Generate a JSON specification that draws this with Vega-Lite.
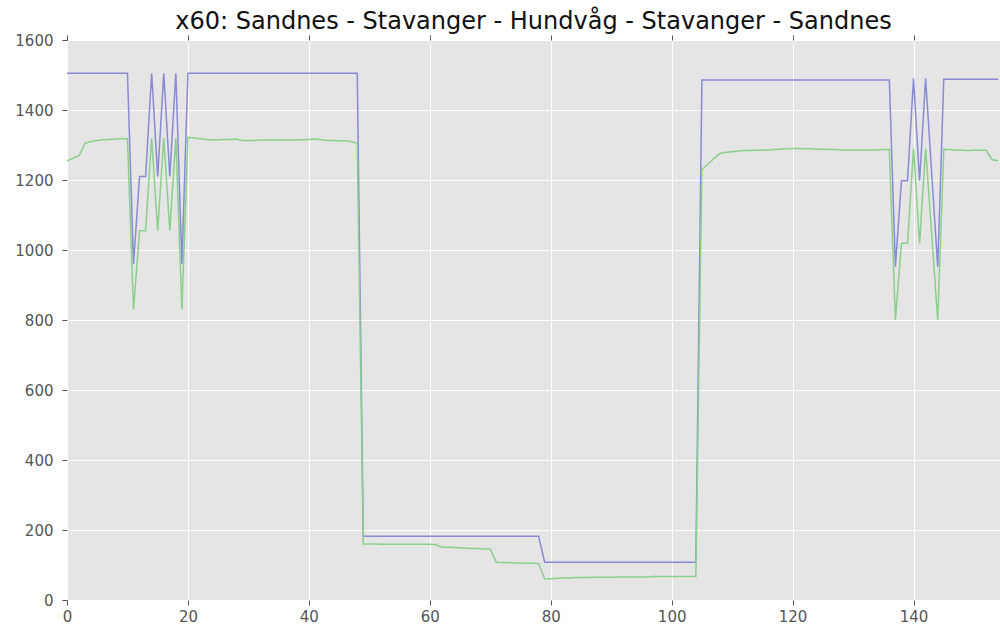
{
  "$schema": "https://vega.github.io/schema/vega-lite/v6.json",
  "width": 933,
  "height": 560,
  "autosize": "none",
  "padding": {"left": 67, "top": 40, "right": 0, "bottom": 32},
  "background": "white",
  "title": {"text": "x60: Sandnes - Stavanger - Hundvåg - Stavanger - Sandnes", "font": "DejaVu Sans", "fontSize": 24, "fontWeight": "normal", "color": "#111111", "anchor": "middle", "offset": -1},
  "config": {
    "view": {"fill": "#E5E5E5", "stroke": null},
    "axis": {"domain": false, "gridColor": "#FFFFFF", "gridWidth": 1, "gridOpacity": 1, "tickColor": "#555555", "tickSize": 5, "labelColor": "#555555", "labelFont": "DejaVu Sans", "labelFontSize": 15, "labelFlush": false, "title": null}
  },
  "data": {"values": [
    {"x":0,"b":1505,"g":1255},{"x":1,"b":1505,"g":1262},{"x":2,"b":1505,"g":1270},{"x":3,"b":1505,"g":1305},{"x":4,"b":1505,"g":1310},
    {"x":5,"b":1505,"g":1313},{"x":6,"b":1505,"g":1315},{"x":7,"b":1505,"g":1316},{"x":8,"b":1505,"g":1317},{"x":9,"b":1505,"g":1318},
    {"x":10,"b":1505,"g":1318},{"x":11,"b":960,"g":830},{"x":12,"b":1210,"g":1055},{"x":13,"b":1210,"g":1055},{"x":14,"b":1505,"g":1320},
    {"x":15,"b":1210,"g":1055},{"x":16,"b":1505,"g":1320},{"x":17,"b":1210,"g":1055},{"x":18,"b":1505,"g":1320},{"x":19,"b":960,"g":830},
    {"x":20,"b":1505,"g":1322},{"x":21,"b":1505,"g":1320},{"x":22,"b":1505,"g":1318},{"x":23,"b":1505,"g":1316},{"x":24,"b":1505,"g":1314},
    {"x":25,"b":1505,"g":1315},{"x":26,"b":1505,"g":1316},{"x":27,"b":1505,"g":1316},{"x":28,"b":1505,"g":1317},{"x":29,"b":1505,"g":1313},
    {"x":30,"b":1505,"g":1313},{"x":31,"b":1505,"g":1313},{"x":32,"b":1505,"g":1314},{"x":33,"b":1505,"g":1314},{"x":34,"b":1505,"g":1314},
    {"x":35,"b":1505,"g":1315},{"x":36,"b":1505,"g":1314},{"x":37,"b":1505,"g":1314},{"x":38,"b":1505,"g":1315},{"x":39,"b":1505,"g":1315},
    {"x":40,"b":1505,"g":1316},{"x":41,"b":1505,"g":1317},{"x":42,"b":1505,"g":1315},{"x":43,"b":1505,"g":1313},{"x":44,"b":1505,"g":1313},
    {"x":45,"b":1505,"g":1312},{"x":46,"b":1505,"g":1312},{"x":47,"b":1505,"g":1310},{"x":48,"b":1505,"g":1305},{"x":49,"b":182,"g":160},
    {"x":50,"b":182,"g":160},{"x":51,"b":182,"g":160},{"x":52,"b":182,"g":159},{"x":53,"b":182,"g":159},{"x":54,"b":182,"g":159},
    {"x":55,"b":182,"g":159},{"x":56,"b":182,"g":159},{"x":57,"b":182,"g":159},{"x":58,"b":182,"g":159},{"x":59,"b":182,"g":159},
    {"x":60,"b":182,"g":159},{"x":61,"b":182,"g":158},{"x":62,"b":182,"g":151},{"x":63,"b":182,"g":151},{"x":64,"b":182,"g":150},
    {"x":65,"b":182,"g":149},{"x":66,"b":182,"g":148},{"x":67,"b":182,"g":147},{"x":68,"b":182,"g":147},{"x":69,"b":182,"g":146},
    {"x":70,"b":182,"g":146},{"x":71,"b":182,"g":108},{"x":72,"b":182,"g":107},{"x":73,"b":182,"g":107},{"x":74,"b":182,"g":106},
    {"x":75,"b":182,"g":106},{"x":76,"b":182,"g":105},{"x":77,"b":182,"g":105},{"x":78,"b":182,"g":104},{"x":79,"b":108,"g":60},
    {"x":80,"b":108,"g":61},{"x":81,"b":108,"g":62},{"x":82,"b":108,"g":63},{"x":83,"b":108,"g":63},{"x":84,"b":108,"g":64},
    {"x":85,"b":108,"g":64},{"x":86,"b":108,"g":64},{"x":87,"b":108,"g":65},{"x":88,"b":108,"g":65},{"x":89,"b":108,"g":65},
    {"x":90,"b":108,"g":65},{"x":91,"b":108,"g":66},{"x":92,"b":108,"g":66},{"x":93,"b":108,"g":66},{"x":94,"b":108,"g":66},
    {"x":95,"b":108,"g":66},{"x":96,"b":108,"g":66},{"x":97,"b":108,"g":67},{"x":98,"b":108,"g":67},{"x":99,"b":108,"g":67},
    {"x":100,"b":108,"g":67},{"x":101,"b":108,"g":67},{"x":102,"b":108,"g":67},{"x":103,"b":108,"g":67},{"x":104,"b":108,"g":67},
    {"x":105,"b":1486,"g":1230},{"x":106,"b":1486,"g":1245},{"x":107,"b":1486,"g":1262},{"x":108,"b":1486,"g":1276},{"x":109,"b":1486,"g":1279},
    {"x":110,"b":1486,"g":1281},{"x":111,"b":1486,"g":1283},{"x":112,"b":1486,"g":1284},{"x":113,"b":1486,"g":1284},{"x":114,"b":1486,"g":1285},
    {"x":115,"b":1486,"g":1285},{"x":116,"b":1486,"g":1286},{"x":117,"b":1486,"g":1287},{"x":118,"b":1486,"g":1288},{"x":119,"b":1486,"g":1289},
    {"x":120,"b":1486,"g":1290},{"x":121,"b":1486,"g":1290},{"x":122,"b":1486,"g":1289},{"x":123,"b":1486,"g":1289},{"x":124,"b":1486,"g":1288},
    {"x":125,"b":1486,"g":1288},{"x":126,"b":1486,"g":1287},{"x":127,"b":1486,"g":1287},{"x":128,"b":1486,"g":1286},{"x":129,"b":1486,"g":1286},
    {"x":130,"b":1486,"g":1286},{"x":131,"b":1486,"g":1286},{"x":132,"b":1486,"g":1286},{"x":133,"b":1486,"g":1286},{"x":134,"b":1486,"g":1286},
    {"x":135,"b":1486,"g":1287},{"x":136,"b":1486,"g":1287},{"x":137,"b":952,"g":800},{"x":138,"b":1198,"g":1019},{"x":139,"b":1198,"g":1019},
    {"x":140,"b":1490,"g":1290},{"x":141,"b":1198,"g":1019},{"x":142,"b":1490,"g":1290},{"x":143,"b":1220,"g":1045},{"x":144,"b":952,"g":800},
    {"x":145,"b":1488,"g":1288},{"x":146,"b":1488,"g":1287},{"x":147,"b":1488,"g":1286},{"x":148,"b":1488,"g":1285},{"x":149,"b":1488,"g":1284},
    {"x":150,"b":1488,"g":1285},{"x":151,"b":1488,"g":1285},{"x":152,"b":1488,"g":1285},{"x":153,"b":1488,"g":1258},{"x":154,"b":1488,"g":1255}
  ]},
  "transform": [{"fold": ["b", "g"], "as": ["series", "value"]}],
  "layer": [
    {
      "mark": {"type": "line", "strokeWidth": 1.5, "clip": true},
      "encoding": {
        "x": {"field": "x", "type": "quantitative", "scale": {"domain": [0, 154.3], "nice": false, "zero": false},
              "axis": {"values": [0, 20, 40, 60, 80, 100, 120, 140], "labelPadding": 4, "grid": true}},
        "y": {"field": "value", "type": "quantitative", "scale": {"domain": [0, 1600], "nice": false},
              "axis": {"values": [0, 200, 400, 600, 800, 1000, 1200, 1400, 1600], "format": "d", "labelPadding": 9, "grid": true}},
        "color": {"field": "series", "type": "nominal", "scale": {"domain": ["b", "g"], "range": ["#8989d8", "#8ad08a"]}, "legend": null}
      }
    },
    {
      "mark": {"type": "line", "opacity": 0, "clip": true},
      "encoding": {
        "x": {"field": "x", "type": "quantitative",
              "axis": {"orient": "top", "values": [0, 20, 40, 60, 80, 100, 120, 140], "labels": false, "grid": false, "ticks": true}},
        "y": {"field": "value", "type": "quantitative"},
        "detail": {"field": "series"}
      }
    }
  ],
  "resolve": {"axis": {"x": "independent"}}
}
